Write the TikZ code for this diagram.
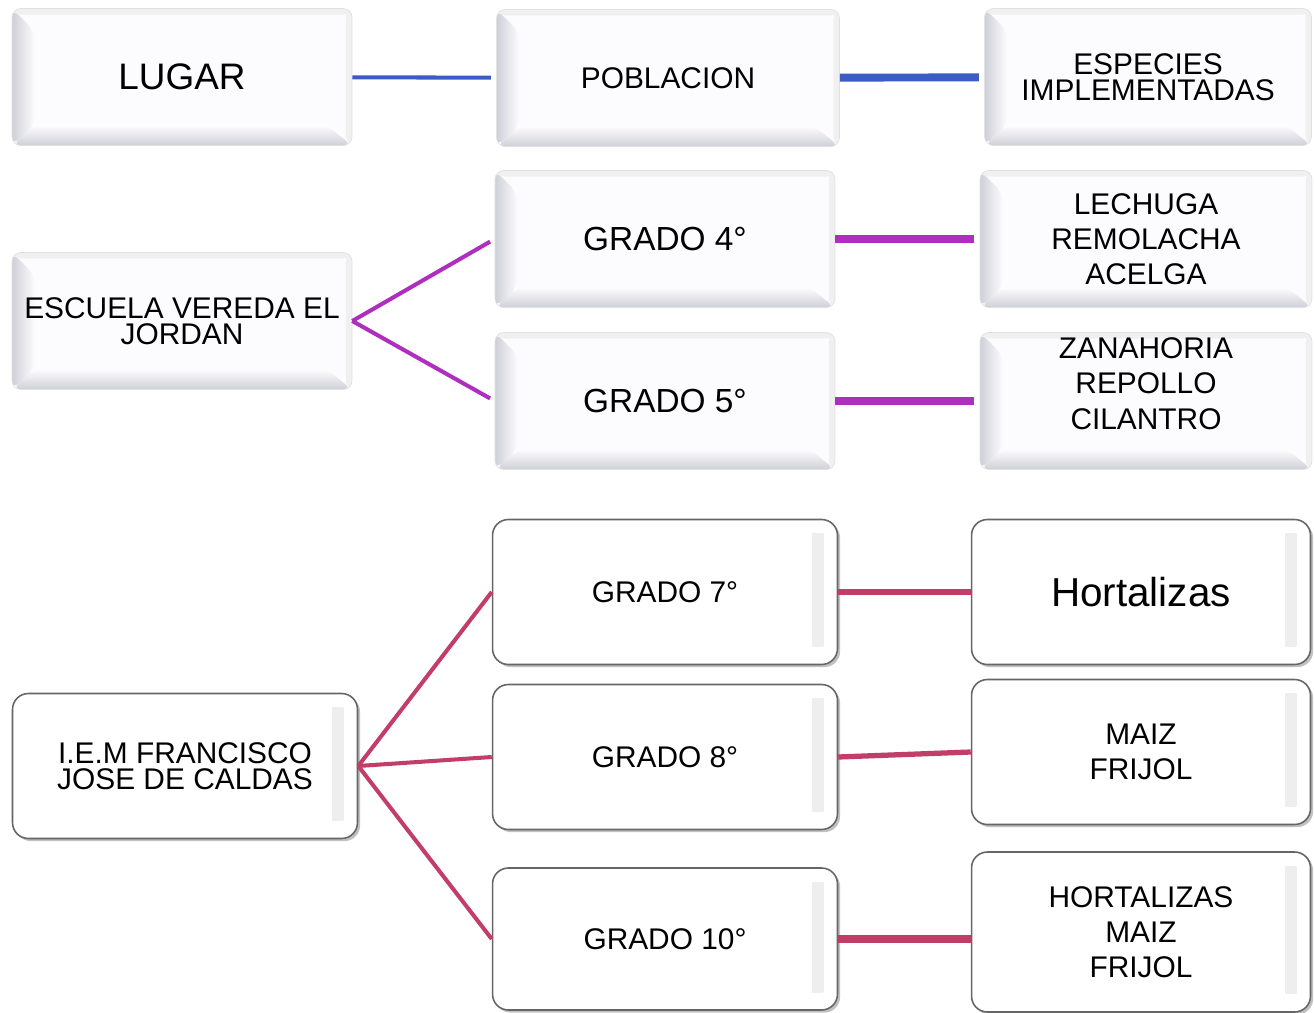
\documentclass[tikz,border=0pt]{standalone}
\usepackage{fontspec}
\setmainfont{Liberation Sans}
\usetikzlibrary{shadows}
\definecolor{lineBlue}{HTML}{3B5BC5}
\definecolor{linePurple}{HTML}{AE2EBE}
\definecolor{lineRose}{HTML}{C23D68}
\definecolor{boxFace}{HTML}{FCFCFE}
\definecolor{boxBevel}{HTML}{CFCFD8}
\tikzset{
  bevelbox/.style={
    rectangle,
    rounded corners=5pt,
    draw=black!12,
    fill=boxFace,
    align=center,
    inner sep=0pt,
    font=\fontsize{17}{15}\selectfont,
    minimum width=6.8cm,
    minimum height=2.74cm,
    path picture={
      \fill[black!6] ([yshift=-0.12cm]path picture bounding box.north west) rectangle (path picture bounding box.north east);
      \fill[black!6] ([xshift=-0.12cm]path picture bounding box.south east) rectangle (path picture bounding box.north east);
      \shade[left color=boxBevel, right color=boxFace]
        (path picture bounding box.north west) -- ([shift={(0.45cm,-0.45cm)}]path picture bounding box.north west)
        -- ([shift={(0.45cm,0.4cm)}]path picture bounding box.south west) -- (path picture bounding box.south west) -- cycle;
      \shade[bottom color=boxBevel, top color=boxFace]
        (path picture bounding box.south west) -- ([shift={(0.45cm,0.4cm)}]path picture bounding box.south west)
        -- ([shift={(-0.5cm,0.4cm)}]path picture bounding box.south east) -- (path picture bounding box.south east) -- cycle;
    }
  },
  shadowbox/.style={
    rectangle,
    rounded corners=9pt,
    draw=black!60,
    line width=0.9pt,
    fill=white,
    align=center,
    inner sep=0pt,
    font=\fontsize{17}{20}\selectfont,
    minimum width=6.9cm,
    minimum height=2.9cm,
    drop shadow={shadow xshift=1.5pt, shadow yshift=-1.5pt, opacity=0.35, fill=black!70},
    path picture={
      \shade[sharp corners, left color=white, right color=black!7]
        ([shift={(-0.5cm,0.36cm)}]path picture bounding box.south east) rectangle ([shift={(-0.28cm,-0.28cm)}]path picture bounding box.north east);
    }
  },
  link/.style={line width=2.3pt},
  boldlink/.style={line width=4.5pt}
}

\begin{document}
\begin{tikzpicture}[x=0.02cm, y=-0.02cm]
  \useasboundingbox (0,0) rectangle (1314,1013);

  % header row
  \node[bevelbox, font=\fontsize{21}{24}\selectfont] (lugar) at (182,77) {LUGAR};
  \node[bevelbox, minimum width=6.86cm] (poblacion) at (668,78) {POBLACION};
  \node[bevelbox, minimum width=6.54cm] (especies) at (1148,77) {ESPECIES\\IMPLEMENTADAS};

  % escuela vereda
  \node[bevelbox] (escuela) at (182,321) {ESCUELA VEREDA EL\\JORDAN};
  \node[bevelbox, font=\fontsize{19}{22}\selectfont] (grado4) at (665,239) {GRADO 4°};
  \node[bevelbox, font=\fontsize{19}{22}\selectfont] (grado5) at (665,401) {GRADO 5°};
  \node[bevelbox, minimum width=6.64cm, font=\fontsize{17}{20}\selectfont] (lechuga) at (1146,239) {LECHUGA\\REMOLACHA\\ACELGA};
  \node[bevelbox, minimum width=6.64cm, font=\fontsize{17}{20}\selectfont, text depth=0.7cm] (zanahoria) at (1146,401) {ZANAHORIA\\REPOLLO\\CILANTRO};

  % institucion educativa
  \node[shadowbox, font=\fontsize{17}{15}\selectfont] (iem) at (185,766) {I.E.M FRANCISCO\\JOSE DE CALDAS};
  \node[shadowbox] (grado7) at (665,592) {GRADO 7°};
  \node[shadowbox] (grado8) at (665,757) {GRADO 8°};
  \node[shadowbox, minimum height=2.84cm] (grado10) at (665,939) {GRADO 10°};
  \node[shadowbox, minimum width=6.78cm, font=\fontsize{23}{26}\selectfont] (hortalizas) at (1141,592) {Hortalizas};
  \node[shadowbox, minimum width=6.78cm] (maiz) at (1141,752) {MAIZ\\FRIJOL};
  \node[shadowbox, minimum width=6.78cm, minimum height=3.2cm] (mixto) at (1141,932) {HORTALIZAS\\MAIZ\\FRIJOL};

  \draw[link, lineBlue, shorten >=3pt] (lugar) -- (poblacion);
  \draw[boldlink, lineBlue, shorten >=3pt] (poblacion) -- (especies);

  \draw[link, linePurple, shorten >=3pt] (escuela.east) -- (grado4.west);
  \draw[link, linePurple, shorten >=3pt] (escuela.east) -- (grado5.west);
  \draw[boldlink, linePurple, shorten >=3pt] (grado4) -- (lechuga);
  \draw[boldlink, linePurple, shorten >=3pt] (grado5) -- (zanahoria);

  \draw[link, lineRose] (iem.east) -- (grado7.west);
  \draw[link, lineRose] (iem.east) -- (grado8.west);
  \draw[link, lineRose] (iem.east) -- (grado10.west);
  \draw[link, lineRose, line width=3pt] (grado7) -- (hortalizas);
  \draw[link, lineRose, line width=3pt] (grado8.east) -- (maiz.west);
  \draw[boldlink, lineRose] (grado10.east) -- (grado10.east -| mixto.west);
\end{tikzpicture}
\end{document}
